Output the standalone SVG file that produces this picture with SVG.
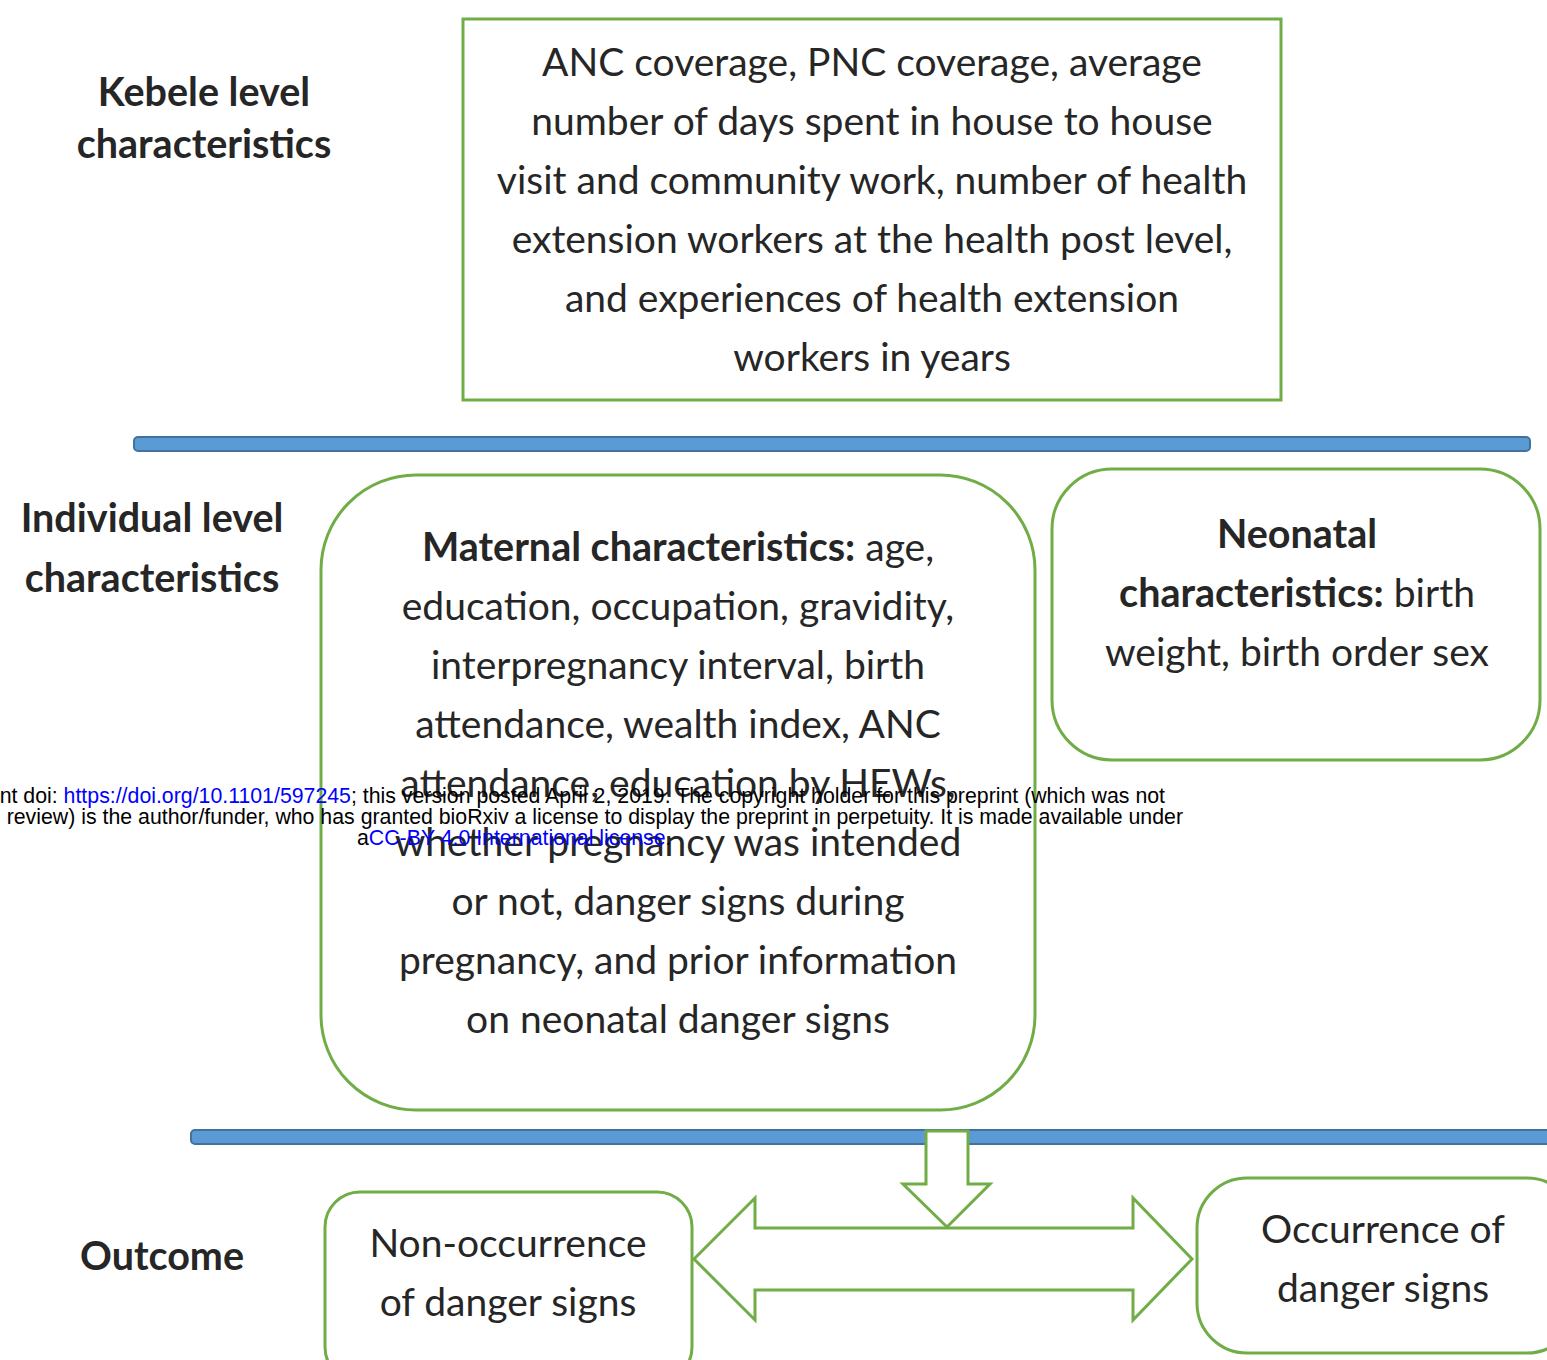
<svg xmlns="http://www.w3.org/2000/svg" width="1547" height="1360" viewBox="0 0 1547 1360">
<style>
.box{fill:#fff;stroke:#70AD47;stroke-width:3}
.bar{fill:#5B9BD5;stroke:#41719C;stroke-width:2}
.t{font-family:Lato,"Open Sans","Liberation Sans",sans-serif;font-size:39px;fill:#262626;text-anchor:middle}
.b{font-weight:bold;font-size:39.5px}
.n{font-family:"Liberation Sans",Arial,sans-serif;font-size:21.3px;fill:#000}
.lk{fill:#0000FF}
</style>
<rect width="1547" height="1360" fill="#fff"/>
<g id="label-kebele">
<text class="t b" x="204" y="106">Kebele level</text>
<text class="t b" x="204" y="158">characteristics</text>
</g>
<g id="label-individual">
<text class="t b" x="152" y="532">Individual level</text>
<text class="t b" x="152" y="592">characteristics</text>
</g>
<g id="label-outcome">
<text class="t b" x="162" y="1270">Outcome</text>
</g>
<g id="kebele-box">
<rect class="box" x="463" y="19" width="818" height="381"/>
<text class="t" x="872" y="76">ANC coverage, PNC coverage, average</text>
<text class="t" x="872" y="135">number of days spent in house to house</text>
<text class="t" x="872" y="194">visit and community work, number of health</text>
<text class="t" x="872" y="253">extension workers at the health post level,</text>
<text class="t" x="872" y="312">and experiences of health extension</text>
<text class="t" x="872" y="371">workers in years</text>
</g>
<g id="bars">
<rect class="bar" x="134" y="437" width="1396" height="14" rx="4"/>
<rect class="bar" x="191" y="1130" width="1360" height="14" rx="4"/>
</g>
<g id="maternal-box">
<rect class="box" x="321" y="475" width="714" height="635" rx="95"/>
<text class="t" x="678" y="561"><tspan class="b">Maternal characteristics:</tspan> age,</text>
<text class="t" x="678" y="620">education, occupation, gravidity,</text>
<text class="t" x="678" y="679">interpregnancy interval, birth</text>
<text class="t" x="678" y="738">attendance, wealth index, ANC</text>
<text class="t" x="678" y="797">attendance, education by HEWs,</text>
<text class="t" x="678" y="856">whether pregnancy was intended</text>
<text class="t" x="678" y="915">or not, danger signs during</text>
<text class="t" x="678" y="974">pregnancy, and prior information</text>
<text class="t" x="678" y="1033">on neonatal danger signs</text>
</g>
<g id="neonatal-box">
<rect class="box" x="1052" y="469" width="488" height="291" rx="60"/>
<text class="t" x="1297" y="548"><tspan class="b">Neonatal</tspan></text>
<text class="t" x="1297" y="607"><tspan class="b">characteristics:</tspan> birth</text>
<text class="t" x="1297" y="666">weight, birth order sex</text>
</g>
<g id="non-occurrence-box">
<rect class="box" x="325" y="1192" width="367" height="190" rx="35"/>
<text class="t" x="508" y="1257">Non-occurrence</text>
<text class="t" x="508" y="1316">of danger signs</text>
</g>
<g id="occurrence-box">
<rect class="box" x="1197" y="1178" width="380" height="175" rx="50"/>
<text class="t" x="1383" y="1243">Occurrence of</text>
<text class="t" x="1383" y="1302">danger signs</text>
</g>
<g id="connectors">
<path class="box" d="M926,1131 H968 V1184 H990 L947,1227 L903,1184 H926 Z"/>
<path class="box" d="M694,1259 L755,1198 V1228 H1133 V1198 L1192,1259 L1133,1320 V1290 H755 V1320 Z"/>
</g>
<g id="notice">
<text class="n" x="1165" y="803" text-anchor="end">nt doi: <tspan class="lk">https://doi.org/10.1101/597245</tspan>; this version posted April 2, 2019. The copyright holder for this preprint (which was not</text>
<text class="n" x="1183" y="824" text-anchor="end">review) is the author/funder, who has granted bioRxiv a license to display the preprint in perpetuity. It is made available under</text>
<text class="n" x="357" y="845">a<tspan class="lk">CC-BY 4.0 International license</tspan>.</text>
</g>
</svg>
